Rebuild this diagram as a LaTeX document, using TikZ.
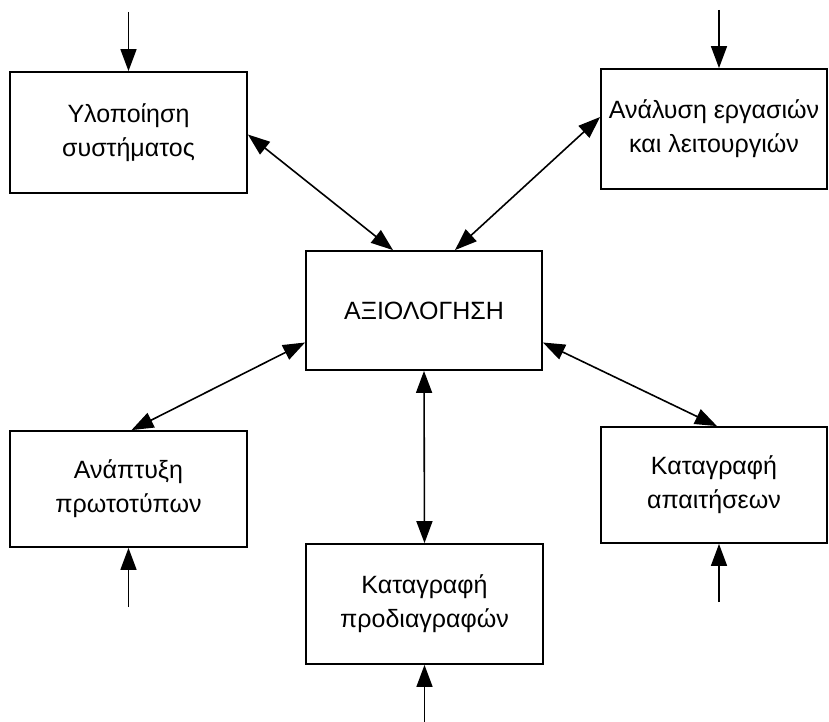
\documentclass[tikz,border=0pt]{standalone}
\usepackage{fontspec}
\setmainfont{Liberation Sans}
\usetikzlibrary{arrows.meta}
\begin{document}
\begin{tikzpicture}[x=1pt,y=-1pt,
  box/.style={draw, line width=1.8pt, rectangle, inner sep=0pt, align=center,
    font=\fontsize{25}{34}\selectfont},
  tip/.tip={Triangle[length=22pt,width=16pt]},
  conn/.style={line width=1.6pt, -tip},
  dconn/.style={line width=1.6pt, tip-tip}]
\useasboundingbox[fill=white] (0,0) rectangle (829,722);
\node[box, minimum width=237pt, minimum height=121pt] (b1) at (128.5,132.5) {Υλοποίηση\\συστήματος};
\node[box, minimum width=226pt, minimum height=120pt] (b2) at (714,129) {Ανάλυση εργασιών\\και λειτουργιών};
\node[box, minimum width=236pt, minimum height=119pt] (c) at (424,310.5) {ΑΞΙΟΛΟΓΗΣΗ};
\node[box, minimum width=237pt, minimum height=116pt] (b4) at (128.5,489) {Ανάπτυξη\\πρωτοτύπων};
\node[box, minimum width=226pt, minimum height=116pt] (b5) at (714,485) {Καταγραφή\\απαιτήσεων};
\node[box, minimum width=237pt, minimum height=120pt] (b6) at (424.5,604) {Καταγραφή\\προδιαγραφών};
\coordinate (i1) at (128.5,12);
\coordinate (i2) at (719,10);
\coordinate (i4) at (128.5,607);
\coordinate (i5) at (719,602);
\coordinate (i6) at (424.5,722);
\draw[conn] (i1) -- (b1.north);
\draw[conn] (i2) -- (i2 |- b2.north);
\draw[conn] (i4) -- (b4.south);
\draw[conn] (i5) -- (i5 |- b5.south);
\draw[conn] (i6) -- (b6.south);
\draw[dconn] ([yshift=-2pt]b1.east) -- ([xshift=-31pt]c.north);
\draw[dconn] ([yshift=12pt]b2.west) -- ([xshift=31pt]c.north);
\draw[dconn] ([yshift=-32pt]c.west) -- ([xshift=3pt]b4.north);
\draw[dconn] ([yshift=-32pt]c.east) -- ([xshift=3pt]b5.north);
\draw[dconn] (c.south) -- (b6.north);
\end{tikzpicture}
\end{document}
